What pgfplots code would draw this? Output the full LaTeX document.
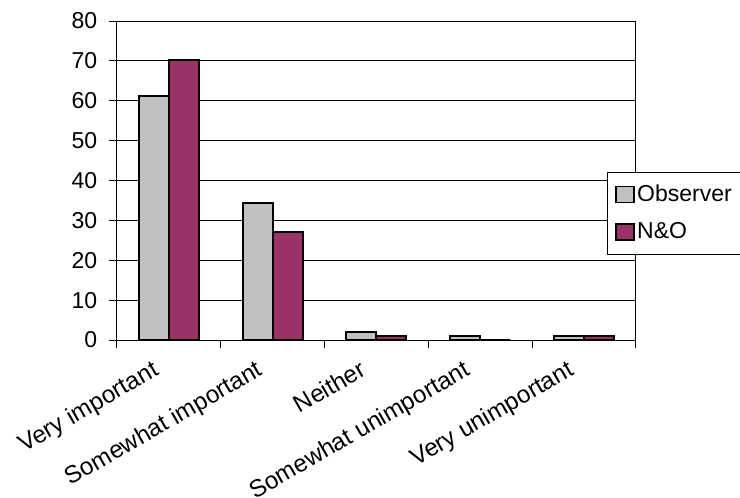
\documentclass[border=0pt]{standalone}
\usepackage{fontspec}
\setmainfont{Liberation Sans}
\usepackage{pgfplots}
\pgfplotsset{compat=1.18}
\definecolor{obsgray}{HTML}{C0C0C0}
\definecolor{noplum}{HTML}{993366}
\begin{document}
\fontsize{23}{27}\selectfont
\begin{tikzpicture}[x=1pt,y=1pt]
\path[use as bounding box] (0,0) rectangle (740,-498);
\begin{axis}[
    at={(117pt,-340pt)}, anchor=south west,
    scale only axis, width=519pt, height=319pt,
    ybar=0pt, bar width=30pt,
    xmin=-0.5, xmax=4.5, ymin=0, ymax=80,
    ytick={0,10,...,80},
    xtick={0,...,4},
    xticklabels={Very important, Somewhat important, Neither, Somewhat unimportant, Very unimportant},
    major x tick style={draw=none},
    minor xtick={-0.5,0.5,...,4.5},
    tick pos=left,
    tick align=outside,
    major tick length=8pt, minor tick length=8pt,
    ymajorgrids, grid style={black, line width=0.8pt},
    axis line style={black, line width=1pt},
    tick style={black, line width=1pt},
    x tick label style={rotate=30, anchor=north east, xshift=-13pt, yshift=7pt,
        font=\fontsize{24.3}{28}\selectfont},
    y tick label style={xshift=-4pt, font=\fontsize{23}{27}\selectfont},
    /pgf/number format/assume math mode=true,
    legend image code/.code={\draw[#1,draw=black,line width=1.8pt] (0pt,-8pt) rectangle (18pt,8pt);},
    legend cell align=left,
    legend style={at={(0.944,0.527)}, anchor=north west, draw=black, line width=1pt,
        fill=white, inner xsep=8pt, inner ysep=10pt, row sep=14pt,
        font=\fontsize{23}{27}\selectfont,
        /tikz/every even column/.append style={column sep=9pt}},
]
\addplot[fill=obsgray, draw=black, line width=2pt]
    coordinates {(0,61.3) (1,34.4) (2,2.1) (3,1.1) (4,1.1)};
\addlegendentry{Observer}
\addplot[fill=noplum, draw=black, line width=2pt]
    coordinates {(0,70.3) (1,27.1) (2,1.1) (3,0) (4,1.1)};
\addlegendentry{N\&O}
\end{axis}
\end{tikzpicture}
\end{document}
